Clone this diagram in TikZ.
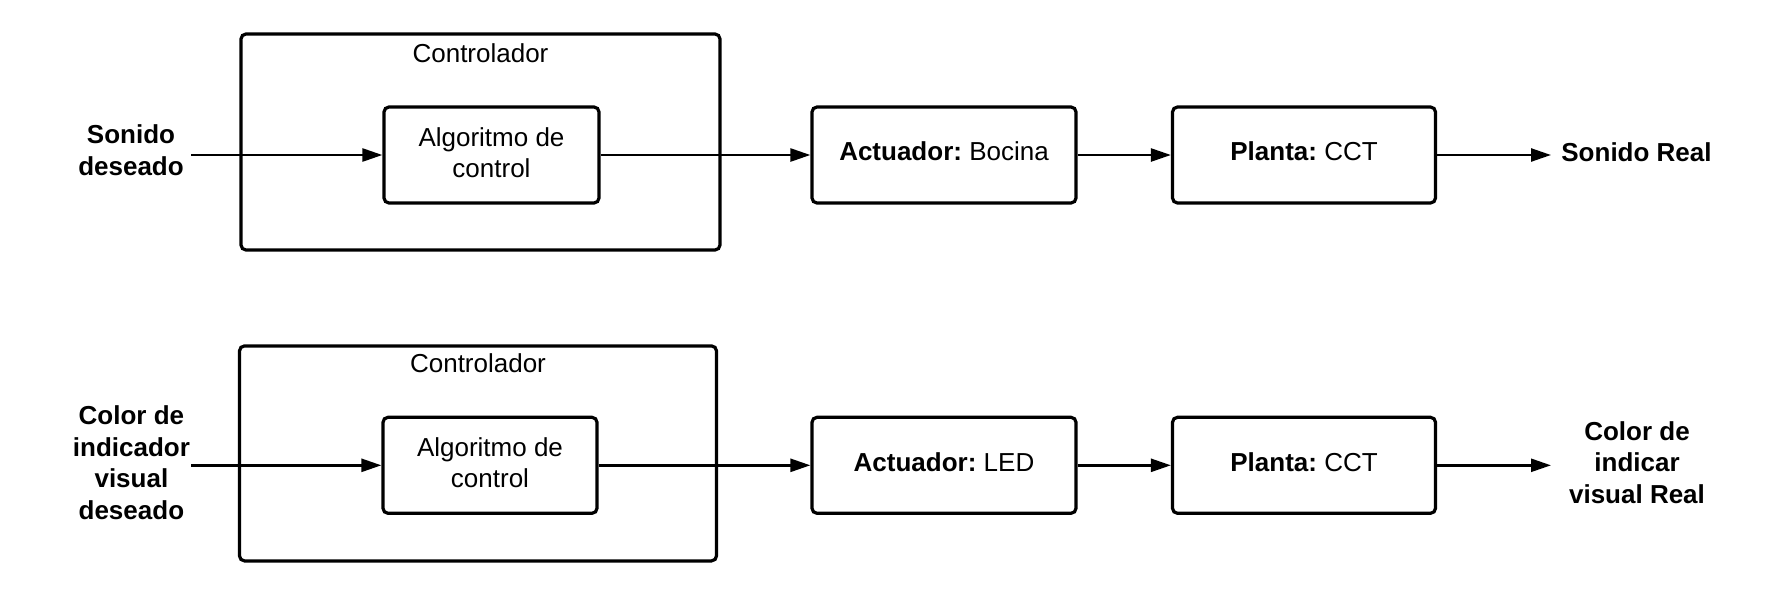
\documentclass[tikz,border=0pt]{standalone}
\usepackage{fontspec}
\setmainfont{Liberation Sans}
\usetikzlibrary{arrows.meta}
\begin{document}
\frenchspacing
\fontsize{26}{31.5}\selectfont
\begin{tikzpicture}[x=1pt,y=-1pt,
  box/.style={draw,line width=3.2pt,rounded corners=5pt,align=center,inner sep=0pt},
  one/.style={text height=18.6pt,text depth=7pt},
  two/.style={text depth=5pt},
  lbl/.style={align=center,font=\bfseries,inner sep=0pt},
  conn/.style={line width=2.5pt,-{Triangle[length=20pt,width=13pt]}}]
\useasboundingbox (0,0) rectangle (1767,592);

% ---- top row ----
\node[box,minimum width=479pt,minimum height=216pt] (ctl1) at (480.5,142) {};
\node[anchor=base,inner sep=0pt] (ctlt1) at (480.5,62.5) {Controlador};
\node[box,two,minimum width=215pt,minimum height=96pt] (alg1) at (491.5,155) {Algoritmo de\\control};
\node[box,one,minimum width=264pt,minimum height=96pt] (act1) at (944,155) {\textbf{Actuador:} Bocina};
\node[box,one,minimum width=263pt,minimum height=96pt] (pl1) at (1304,155) {\textbf{Planta:} CCT};
\node[lbl] (in1) at (131,150) {Sonido\\deseado};
\node[lbl] (out1) at (1636.5,152.2) {Sonido Real};
\coordinate (s1) at (191,155);
\coordinate (e1) at (1551,155);
\draw[conn] (s1) -- (alg1);
\draw[conn] (alg1) -- (act1);
\draw[conn] (act1) -- (pl1);
\draw[conn] (pl1) -- (e1);

% ---- bottom row ----
\node[box,minimum width=477pt,minimum height=215pt] (ctl2) at (478,453.4) {};
\node[anchor=base,inner sep=0pt] (ctlt2) at (478,372.7) {Controlador};
\node[box,two,minimum width=214pt,minimum height=96pt] (alg2) at (490,465.3) {Algoritmo de\\control};
\node[box,one,minimum width=264pt,minimum height=96pt] (act2) at (944,465.3) {\textbf{Actuador:} LED};
\node[box,one,minimum width=263pt,minimum height=96pt] (pl2) at (1304,465.3) {\textbf{Planta:} CCT};
\node[lbl] (in2) at (131.4,462.5) {Color de\\indicador\\visual\\deseado};
\node[lbl] (out2) at (1637,462.2) {Color de\\indicar\\visual Real};
\coordinate (s2) at (191,465.3);
\coordinate (e2) at (1551,465.3);
\draw[conn] (s2) -- (alg2);
\draw[conn] (alg2) -- (act2);
\draw[conn] (act2) -- (pl2);
\draw[conn] (pl2) -- (e2);
\end{tikzpicture}
\end{document}
